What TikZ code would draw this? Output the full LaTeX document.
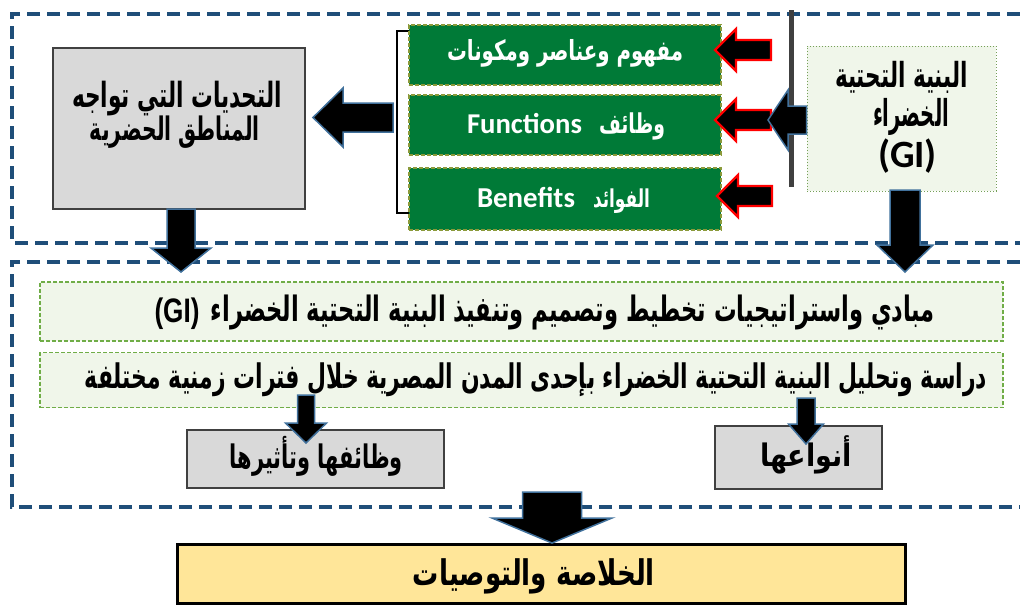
\documentclass[tikz,border=0pt]{standalone}
\usepackage{fontspec}
\usepackage{graphicx}
\usetikzlibrary{calc}
\TeXXeTstate=1
\newfontfamily\ar[Script=Arabic]{DejaVu Sans}
\newfontfamily\lat{Carlito}
\newfontfamily\lib{Liberation Sans}
\newcommand\ARW[3][1.55]{\resizebox{#2}{!}{\scalebox{1}[#1]{{\ar\bfseries\fontsize{20}{20}\selectfont #3}}}}
\newcommand\LW[2]{\resizebox{#1}{!}{\lat\bfseries\fontsize{20}{20}\selectfont #2}}
\newcommand\LSW[2]{\resizebox{#1}{!}{\scalebox{1}[1.3]{\lib\bfseries\fontsize{20}{20}\selectfont #2}}}
\definecolor{dashblue}{HTML}{1F4E79}
\definecolor{arrowblue}{HTML}{41719C}
\definecolor{dkgreen}{HTML}{007A37}
\definecolor{olivebd}{HTML}{8A9A3A}
\definecolor{ltgreen}{HTML}{F0F6EA}
\definecolor{ltborder}{HTML}{70AD47}
\definecolor{boxgray}{HTML}{D9D9D9}
\definecolor{yellowbox}{HTML}{FFE699}
\newcommand\blockarrow[6]{% style, tail, tip, body half, head half, head length
  \coordinate (bahead) at ($(#3)!#6!(#2)$);
  \draw[#1] (#3) -- ($(bahead)!#5!90:(#3)$) -- ($(bahead)!#4!90:(#3)$) -- ($(#2)!#4!90:(#3)$) -- ($(#2)!#4!-90:(#3)$) -- ($(bahead)!#4!-90:(#3)$) -- ($(bahead)!#5!-90:(#3)$) -- cycle;}
\tikzset{
  dashbox/.style={draw=dashblue, line width=4pt, dash pattern=on 13pt off 7pt},
  graybox/.style={draw=black!75, line width=2pt, fill=boxgray, inner sep=0pt},
  greenbox/.style={draw=olivebd, line width=1.2pt, dash pattern=on 4pt off 2pt, fill=dkgreen, minimum width=312pt, inner sep=0pt},
  ltbox/.style={draw=ltborder, line width=1.3pt, dash pattern=on 4pt off 2pt, fill=ltgreen, minimum width=963pt, inner sep=0pt},
  bigarrow/.style={fill=black, draw=arrowblue, line width=1.5pt, line join=miter},
  redarrow/.style={fill=black, draw=red, line width=2.2pt, line join=miter},
  txt/.style={inner sep=0pt, anchor=base},
  wtxt/.style={inner sep=0pt, anchor=base, text=white},
}
\begin{document}
\begin{tikzpicture}[x=1pt,y=-1pt]
\useasboundingbox (0,0) rectangle (1020,606);
% dashed frames
\draw[dashbox] (1040,14) -- (12,14) -- (12,243) -- (1040,243);
\draw[dashbox] (1040,262) -- (12,262) -- (12,507) -- (1040,507);
% challenges box
\node[graybox, minimum width=252pt, minimum height=161pt] (chal) at (179,128.5) {};
\node[txt] (chalt1) at (177,107) {\ARW[1.6]{210pt}{\beginR التحديات التي تواجه\endR}};
\node[txt] (chalt2) at (175,140) {\ARW[1.6]{170pt}{\beginR المناطق الحضرية\endR}};
% bracket
\draw[line width=2.5pt] (409,31) -- (397,31) -- (397,213) -- (409,213);
% green boxes
\node[greenbox, minimum height=60pt] (g1) at (565,55) {};
\node[greenbox, minimum height=60pt] (g2) at (565,125) {};
\node[greenbox, minimum height=62pt] (g3) at (565,199) {};
\node[wtxt] (g1t) at (565,60) {\ARW[1.4]{236pt}{\beginR مفهوم وعناصر ومكونات\endR}};
\node[wtxt] (g2l) at (524.5,133) {\LW{115pt}{Functions}};
\node[wtxt] (g2a) at (632,133) {\ARW[1.45]{66pt}{\beginR وظائف\endR}};
\node[wtxt] (g3l) at (526,207) {\LW{98pt}{Benefits}};
\node[wtxt] (g3a) at (621.5,207) {\ARW[1.45]{57pt}{\beginR الفوائد\endR}};
% vertical line
\draw[line width=5pt, black!75] (791,10) -- (791,187);
% GI box
\node[draw=ltborder!70!gray, line width=1pt, dotted, fill=ltgreen, minimum width=189pt, minimum height=145pt, inner sep=0pt] (gi) at (901.5,118.5) {};
\node[txt] (git1) at (901.5,87) {\ARW[1.6]{133pt}{\beginR البنية التحتية\endR}};
\node[txt] (git2) at (911,126) {\ARW[1.9]{76pt}{\beginR الخضراء\endR}};
\node[txt] (git3) at (907.5,167) {\LW{59pt}{(GI)}};
% principle boxes
\node[ltbox, minimum height=59pt] (p1) at (521.5,311.5) {};
\node[txt] (p1g) at (177,322) {\LSW{45pt}{(GI)}};
\node[txt] (p1t) at (573,321) {\ARW{724pt}{\beginR مبادي واستراتيجيات تخطيط وتصميم وتنفيذ البنية التحتية الخضراء\endR}};
\node[ltbox, minimum height=55pt] (p2) at (521.5,380) {};
\node[txt] (p2t) at (536,388) {\ARW{902pt}{\beginR دراسة وتحليل البنية التحتية الخضراء بإحدى المدن المصرية خلال فترات زمنية مختلفة\endR}};
% sub boxes
\node[graybox, minimum width=257pt, minimum height=58pt] (fun) at (315.5,459) {};
\node[txt] (funt) at (316.5,468) {\ARW{173pt}{\beginR وظائفها وتأثيرها\endR}};
\node[graybox, minimum width=167pt, minimum height=63pt] (typ) at (798.5,457.5) {};
\node[txt] (typt) at (806,466) {\ARW[1.15]{92pt}{\beginR أنواعها\endR}};
% conclusion
\node[draw=black, line width=3pt, fill=yellowbox, minimum width=728pt, minimum height=59pt, inner sep=0pt] (conc) at (541,573.5) {};
\node[txt] (conct) at (534,585) {\ARW[1.35]{242pt}{\beginR الخلاصة والتوصيات\endR}};
% arrow anchor coordinates
\coordinate (a1tail) at (393,117.5); \coordinate (a1tip) at (313,117.5);
\coordinate (r1tail) at (771,50);  \coordinate (r1tip) at (715,50);
\coordinate (r2tail) at (771,120); \coordinate (r2tip) at (715,120);
\coordinate (r3tail) at (772,196); \coordinate (r3tip) at (717,196);
\coordinate (bmtail) at (gi.west |- 0,120); \coordinate (bmtip) at (768,120);
\coordinate (gdtail) at (905,190); \coordinate (gdtip) at (905,272);
\coordinate (cdtail) at (181,209); \coordinate (cdtip) at (181,272);
\coordinate (f1tail) at (306,395); \coordinate (f1tip) at (306,443);
\coordinate (t1tail) at (806,398); \coordinate (t1tip) at (806,444);
\coordinate (ytail) at (552,492); \coordinate (ytip) at (552,543);
% arrows
\blockarrow{bigarrow}{a1tail}{a1tip}{14.5pt}{29.5pt}{30pt}
\blockarrow{redarrow}{r1tail}{r1tip}{10pt}{21pt}{21pt}
\blockarrow{redarrow}{r2tail}{r2tip}{10pt}{21pt}{21pt}
\blockarrow{redarrow}{r3tail}{r3tip}{10pt}{21pt}{21pt}
\blockarrow{bigarrow}{bmtail}{bmtip}{14pt}{30pt}{20pt}
\blockarrow{bigarrow}{gdtail}{gdtip}{15pt}{28pt}{27pt}
\blockarrow{bigarrow}{cdtail}{cdtip}{14pt}{30pt}{24pt}
\blockarrow{bigarrow}{f1tail}{f1tip}{8.5pt}{20.5pt}{20pt}
\blockarrow{bigarrow}{t1tail}{t1tip}{9pt}{17.5pt}{20pt}
\blockarrow{bigarrow}{ytail}{ytip}{29.5pt}{60pt}{25pt}
\end{tikzpicture}
\end{document}
